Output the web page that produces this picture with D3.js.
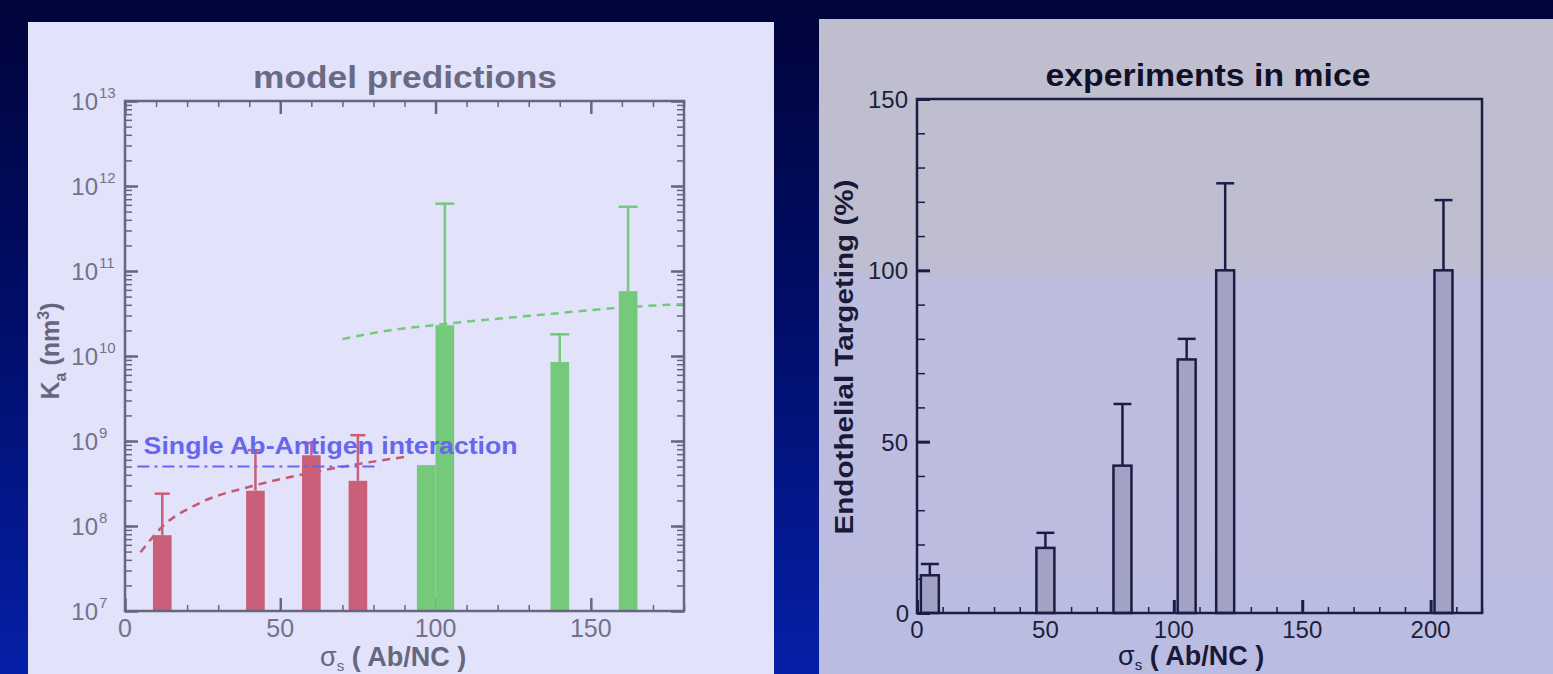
<!DOCTYPE html>
<html>
<head>
<meta charset="utf-8">
<script src="https://cdn.jsdelivr.net/npm/d3@7"></script>
<style>
  html, body { margin: 0; padding: 0; overflow: hidden; background: #00053c; }
  text { font-family: "Liberation Sans", Arial, sans-serif; }
</style>
</head>
<body>
<svg id="chart" width="1553" height="674"></svg>
<script>
// ---- left: model predictions ----
const modelSigma = [12, 42, 60, 75, 97, 103, 140, 162];
const modelKa = [7.8e7, 2.6e8, 6.8e8, 3.4e8, 5.2e8, 2.3e10, 8.5e9, 5.8e10];
const modelKaHi = [2.4e8, 7.8e8, 9.5e8, 1.17e9, null, 6.2e11, 1.8e10, 5.7e11];
const modelGroup = ["lo", "lo", "lo", "lo", "hi", "hi", "hi", "hi"];

const loFitSigma = [5, 12, 24, 41, 55, 73, 90];
const loFitKa = [4.9e7, 9.8e7, 1.86e8, 2.95e8, 3.9e8, 5.2e8, 6.5e8];
const hiFitSigma = [70, 82, 103, 140, 162, 180];
const hiFitKa = [1.58e10, 1.92e10, 2.38e10, 3.2e10, 3.77e10, 4.07e10];

const singleSigma = [4, 82];
const singleKa = 5e8;

const kaDecades = [7, 8, 9, 10, 11, 12, 13];
const sigmaTicksL = [0, 50, 100, 150];

// ---- right: experiments in mice ----
const expSigma = [5, 50, 80, 105, 120, 205];
const expTarget = [11, 19, 43, 74, 100, 100];
const expTargetHi = [14.3, 23.4, 61, 80, 125.4, 120.5];
const targetTicks = [0, 50, 100, 150];
const sigmaTicksR = [0, 50, 100, 150, 200];

const svg = d3.select("#chart");
const defs = svg.append("defs");

const bg = defs.append("linearGradient").attr("id", "bg").attr("x1", 0).attr("y1", 0).attr("x2", 0).attr("y2", 1);
bg.append("stop").attr("offset", 0).attr("stop-color", "#00043a");
bg.append("stop").attr("offset", 0.5).attr("stop-color", "#010e6c");
bg.append("stop").attr("offset", 1).attr("stop-color", "#0520a8");

const rp = defs.append("linearGradient").attr("id", "rpanel").attr("x1", 0).attr("y1", 0).attr("x2", 0).attr("y2", 1);
rp.append("stop").attr("offset", 0).attr("stop-color", "#c0bfcf");
rp.append("stop").attr("offset", 0.385).attr("stop-color", "#bebdd1");
rp.append("stop").attr("offset", 0.39).attr("stop-color", "#bdbddd");
rp.append("stop").attr("offset", 1).attr("stop-color", "#bbbce2");

svg.append("rect").attr("width", 1553).attr("height", 674).attr("fill", "url(#bg)");
svg.append("rect").attr("x", 28).attr("y", 22).attr("width", 746).attr("height", 660).attr("fill", "#e2e2fa");
svg.append("rect").attr("x", 819).attr("y", 19).attr("width", 740).attr("height", 660).attr("fill", "url(#rpanel)");

// ================= LEFT =================
const xL = d3.scaleLinear().domain([0, 180]).range([125, 684]);
const yL = d3.scaleLog().domain([1e7, 1e13]).range([611, 101]);
const gray = "#66667e";
const redC = "#c95f78", greenC = "#74c97a", blueC = "#6767ee";
const L = svg.append("g");

function styleTicks(g, color, w) {
  g.select(".domain").remove();
  g.selectAll(".tick line").attr("stroke", color).attr("stroke-width", w);
}

// ticks (inward) on all four sides
const minorX = d3.range(0, 181, 10);
[["bottom", 611], ["top", 101]].forEach(([side, ty]) => {
  const mk = side === "bottom" ? d3.axisBottom : d3.axisTop;
  L.append("g").attr("transform", `translate(0,${ty})`)
    .call(mk(xL).tickValues(minorX).tickSize(-6).tickFormat(""))
    .call(g => styleTicks(g, gray, 1.5));
  L.append("g").attr("transform", `translate(0,${ty})`)
    .call(mk(xL).tickValues(sigmaTicksL).tickSize(-13).tickFormat(""))
    .call(g => styleTicks(g, gray, 2.5));
});
[["left", 125], ["right", 684]].forEach(([side, tx]) => {
  const mk = side === "left" ? d3.axisLeft : d3.axisRight;
  L.append("g").attr("transform", `translate(${tx},0)`)
    .call(mk(yL).tickValues(yL.ticks()).tickSize(-7).tickFormat(""))
    .call(g => styleTicks(g, gray, 1.5));
  L.append("g").attr("transform", `translate(${tx},0)`)
    .call(mk(yL).tickValues(kaDecades.map(e => Math.pow(10, e))).tickSize(-13).tickFormat(""))
    .call(g => styleTicks(g, gray, 2.5));
});

// fit curves
const lineL = d3.line().x(d => xL(d[0])).y(d => yL(d[1])).curve(d3.curveMonotoneX);
L.append("path").attr("d", lineL(loFitSigma.map((s, i) => [s, loFitKa[i]])))
  .attr("fill", "none").attr("stroke", "#c45a72").attr("stroke-width", 2.5).attr("stroke-dasharray", "8,6");
L.append("path").attr("d", lineL(hiFitSigma.map((s, i) => [s, hiFitKa[i]])))
  .attr("fill", "none").attr("stroke", greenC).attr("stroke-width", 2.5).attr("stroke-dasharray", "8,6");

// bars
const bwL = xL(6) - xL(0);
const modelData = modelSigma.map((s, i) => ({ s, v: modelKa[i], hi: modelKaHi[i], g: modelGroup[i] }));
L.selectAll("rect.bar").data(modelData).join("rect").attr("class", "bar")
  .attr("x", d => xL(d.s) - bwL / 2).attr("width", bwL)
  .attr("y", d => yL(d.v)).attr("height", d => yL(1e7) - yL(d.v))
  .attr("fill", d => d.g === "lo" ? redC : greenC);
const errL = L.selectAll("g.err").data(modelData.filter(d => d.hi)).join("g").attr("class", "err")
  .attr("stroke", d => d.g === "lo" ? redC : greenC).attr("stroke-width", 2.5);
errL.append("line").attr("x1", d => xL(d.s)).attr("x2", d => xL(d.s)).attr("y1", d => yL(d.v)).attr("y2", d => yL(d.hi));
errL.append("line").attr("x1", d => xL(d.s) - (d.g === "lo" ? 7.5 : 9.5)).attr("x2", d => xL(d.s) + (d.g === "lo" ? 7.5 : 9.5))
  .attr("y1", d => yL(d.hi)).attr("y2", d => yL(d.hi));

// single interaction line
L.append("line").attr("x1", xL(singleSigma[0])).attr("x2", xL(singleSigma[1]))
  .attr("y1", yL(singleKa)).attr("y2", yL(singleKa))
  .attr("stroke", blueC).attr("stroke-width", 2).attr("stroke-dasharray", "12,5,3,5");
L.append("text").attr("x", xL(6)).attr("y", yL(singleKa) - 13)
  .attr("fill", blueC).attr("font-size", 24).attr("font-weight", "bold")
  .attr("textLength", 374).attr("lengthAdjust", "spacingAndGlyphs")
  .text("Single Ab-Antigen interaction");

// frame
L.append("rect").attr("x", 125).attr("y", 101).attr("width", 684 - 125).attr("height", 611 - 101)
  .attr("fill", "none").attr("stroke", gray).attr("stroke-width", 2.5);

// tick labels
const yLab = L.selectAll("text.ylab").data(kaDecades).join("text").attr("class", "ylab")
  .attr("x", 98).attr("y", e => yL(Math.pow(10, e)) + 9)
  .attr("text-anchor", "end").attr("fill", "#72728a").attr("font-size", 24);
yLab.text("10");
yLab.append("tspan").attr("x", 99).attr("dy", -12).attr("font-size", 15).attr("text-anchor", "start").text(e => e);

L.selectAll("text.xlab").data(sigmaTicksL).join("text").attr("class", "xlab")
  .attr("x", d => xL(d)).attr("y", 637).attr("text-anchor", "middle")
  .attr("fill", "#72728a").attr("font-size", 25).text(d => d);

// titles
L.append("text").attr("x", 405).attr("y", 88).attr("text-anchor", "middle")
  .attr("fill", "#6a6a82").attr("font-size", 31).attr("font-weight", "bold")
  .attr("textLength", 304).attr("lengthAdjust", "spacingAndGlyphs").text("model predictions");

const kaT = L.append("text").attr("transform", "translate(59,351) rotate(-90)")
  .attr("text-anchor", "middle").attr("fill", "#66667e").attr("font-size", 25).attr("font-weight", "bold");
kaT.append("tspan").text("K");
kaT.append("tspan").attr("dy", 7).attr("font-size", 16).text("a");
kaT.append("tspan").attr("dy", -7).text(" (nm");
kaT.append("tspan").attr("dy", -10).attr("font-size", 16).text("3");
kaT.append("tspan").attr("dy", 10).text(")");

function sigmaTitle(g, x0, y, color) {
  const t = g.append("text").attr("x", x0).attr("y", y).attr("text-anchor", "start")
    .attr("fill", color).attr("font-size", 27);
  t.append("tspan").text("σ");
  t.append("tspan").attr("dy", 5).attr("font-size", 15).text("s");
  t.append("tspan").attr("dy", -5).attr("font-weight", "bold").text("  ( Ab/NC )");
}
sigmaTitle(L, 320, 666, "#66667e");

// ================= RIGHT =================
const xR = d3.scaleLinear().domain([0, 220]).range([917, 1482]);
const yR = d3.scaleLinear().domain([0, 150]).range([613, 99]);
const dark = "#1c1c46";
const R = svg.append("g");

R.append("g").attr("transform", "translate(0,613)")
  .call(d3.axisBottom(xR).tickValues(d3.range(0, 221, 10)).tickSize(-6).tickFormat(""))
  .call(g => styleTicks(g, dark, 1.5));
R.append("g").attr("transform", "translate(0,613)")
  .call(d3.axisBottom(xR).tickValues(sigmaTicksR).tickSize(-13).tickFormat(""))
  .call(g => styleTicks(g, dark, 3));
R.append("g").attr("transform", "translate(917,0)")
  .call(d3.axisLeft(yR).tickValues(d3.range(0, 151, 10)).tickSize(-8).tickFormat(""))
  .call(g => styleTicks(g, dark, 1.5));
R.append("g").attr("transform", "translate(917,0)")
  .call(d3.axisLeft(yR).tickValues(targetTicks).tickSize(-13).tickFormat(""))
  .call(g => styleTicks(g, dark, 3));

const bwR = xR(7) - xR(0);
const expData = expSigma.map((s, i) => ({ s, v: expTarget[i], hi: expTargetHi[i] }));
const errR = R.selectAll("g.err").data(expData).join("g").attr("class", "err")
  .attr("stroke", dark).attr("stroke-width", 2.5);
errR.append("line").attr("x1", d => xR(d.s)).attr("x2", d => xR(d.s)).attr("y1", d => yR(d.v)).attr("y2", d => yR(d.hi));
errR.append("line").attr("x1", d => xR(d.s) - bwR / 2).attr("x2", d => xR(d.s) + bwR / 2)
  .attr("y1", d => yR(d.hi)).attr("y2", d => yR(d.hi));
R.selectAll("rect.bar").data(expData).join("rect").attr("class", "bar")
  .attr("x", d => xR(d.s) - bwR / 2).attr("width", bwR)
  .attr("y", d => yR(d.v)).attr("height", d => yR(0) - yR(d.v))
  .attr("fill", "#a2a2c4").attr("stroke", dark).attr("stroke-width", 2.5);

R.append("rect").attr("x", 917).attr("y", 99).attr("width", 1482 - 917).attr("height", 613 - 99)
  .attr("fill", "none").attr("stroke", dark).attr("stroke-width", 2.5);

R.selectAll("text.ylab").data(targetTicks).join("text").attr("class", "ylab")
  .attr("x", d => d === 0 ? 909 : 908).attr("y", d => yR(d) + 9).attr("text-anchor", "end")
  .attr("fill", "#1e1e3c").attr("font-size", 24).text(d => d);
R.selectAll("text.xlab").data(sigmaTicksR).join("text").attr("class", "xlab")
  .attr("x", d => xR(d)).attr("y", 638).attr("text-anchor", "middle")
  .attr("fill", "#1e1e3c").attr("font-size", 24).text(d => d);

R.append("text").attr("x", 1208).attr("y", 86).attr("text-anchor", "middle")
  .attr("fill", "#101028").attr("font-size", 31).attr("font-weight", "bold")
  .attr("textLength", 325).attr("lengthAdjust", "spacingAndGlyphs").text("experiments in mice");

R.append("text").attr("transform", "translate(853,357) rotate(-90)").attr("text-anchor", "middle")
  .attr("fill", "#1a1a38").attr("font-size", 25).attr("font-weight", "bold")
  .attr("textLength", 355).attr("lengthAdjust", "spacingAndGlyphs").text("Endothelial Targeting (%)");

sigmaTitle(R, 1118, 665, "#1a1a38");
</script>
</body>
</html>
